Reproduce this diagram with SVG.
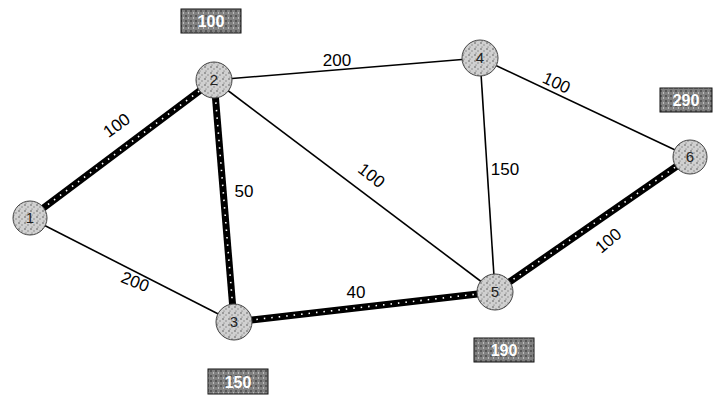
<svg xmlns="http://www.w3.org/2000/svg" width="716" height="403" viewBox="0 0 716 403">
<defs>
<pattern id="stip" width="6" height="6" patternUnits="userSpaceOnUse">
<rect width="6" height="6" fill="#d0d0d0"/>
<circle cx="1" cy="1" r="0.8" fill="#555"/>
<circle cx="4" cy="3" r="0.7" fill="#777"/>
<circle cx="2" cy="5" r="0.6" fill="#666"/>
</pattern>
<pattern id="stipdark" width="5" height="5" patternUnits="userSpaceOnUse">
<rect width="5" height="5" fill="#808080"/>
<circle cx="1" cy="1" r="0.8" fill="#222"/>
<circle cx="3.5" cy="3" r="0.7" fill="#ddd"/>
</pattern>
</defs>
<style>
.thin{stroke:#000;stroke-width:1.6;fill:none}
.thick{stroke:#000;stroke-width:7;fill:none}
.dots{stroke:#fff;stroke-width:1.6;stroke-dasharray:1.5 6;fill:none}
.node circle{fill:url(#stip);stroke:#444;stroke-width:1}
.node text{font-family:"Liberation Sans",Arial,sans-serif;font-size:15px;fill:#222;text-anchor:middle}
.lbl{font-family:"Liberation Sans",Arial,sans-serif;font-size:17px;fill:#000;text-anchor:middle}
.box rect{fill:url(#stipdark);stroke:#111;stroke-width:1}
.box text{font-family:"Liberation Sans",Arial,sans-serif;font-size:16px;fill:#fff;text-anchor:middle;font-weight:bold}
</style>
<rect width="716" height="403" fill="#fff"/>
<g id="connectors">
<line class="thin" x1="30" y1="218" x2="234" y2="322"/>
<line class="thin" x1="214" y1="80" x2="480" y2="58"/>
<line class="thin" x1="214" y1="80" x2="495" y2="292"/>
<line class="thin" x1="480" y1="58" x2="495" y2="292"/>
<line class="thin" x1="480" y1="58" x2="690" y2="157"/>
<line class="thick" x1="30" y1="218" x2="214" y2="80"/>
<line class="dots" x1="30" y1="218" x2="214" y2="80"/>
<line class="thick" x1="214" y1="80" x2="234" y2="322"/>
<line class="dots" x1="214" y1="80" x2="234" y2="322"/>
<line class="thick" x1="234" y1="322" x2="495" y2="292"/>
<line class="dots" x1="234" y1="322" x2="495" y2="292"/>
<line class="thick" x1="495" y1="292" x2="690" y2="157"/>
<line class="dots" x1="495" y1="292" x2="690" y2="157"/>
<text class="lbl" transform="translate(120,130) rotate(-36)">100</text>
<text class="lbl" transform="translate(133,287) rotate(22)">200</text>
<text class="lbl" x="244" y="197">50</text>
<text class="lbl" x="337" y="66">200</text>
<text class="lbl" transform="translate(368,180) rotate(38)">100</text>
<text class="lbl" x="356" y="298">40</text>
<text class="lbl" x="505" y="175">150</text>
<text class="lbl" transform="translate(554,88) rotate(25)">100</text>
<text class="lbl" transform="translate(612,245) rotate(-40)">100</text>
</g>
<g id="node1" class="node"><circle cx="30" cy="218" r="17"/><text x="30" y="223">1</text></g>
<g id="node2" class="node"><circle cx="214" cy="80" r="18"/><text x="214" y="85">2</text></g>
<g id="node3" class="node"><circle cx="234" cy="322" r="18"/><text x="234" y="327">3</text></g>
<g id="node4" class="node"><circle cx="480" cy="58" r="18"/><text x="480" y="63">4</text></g>
<g id="node5" class="node"><circle cx="495" cy="292" r="18"/><text x="495" y="297">5</text></g>
<g id="node6" class="node"><circle cx="690" cy="157" r="17"/><text x="690" y="162">6</text></g>
<g id="box2" class="box"><rect x="181" y="9" width="60" height="24"/><text x="211" y="27">100</text></g>
<g id="box3" class="box"><rect x="208" y="369" width="60" height="25"/><text x="238" y="388">150</text></g>
<g id="box5" class="box"><rect x="474" y="338" width="60" height="24"/><text x="504" y="356">190</text></g>
<g id="box6" class="box"><rect x="660" y="88" width="52" height="24"/><text x="686" y="106">290</text></g>
</svg>
